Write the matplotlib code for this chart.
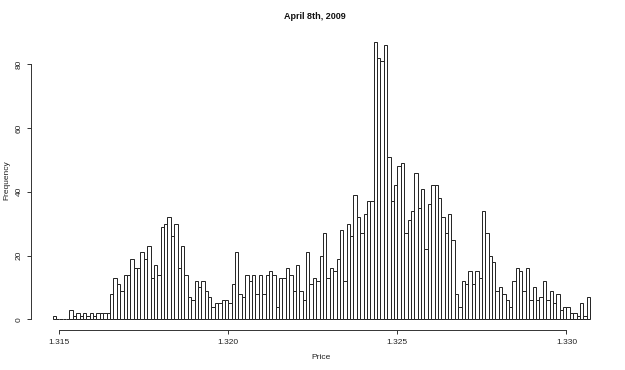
import numpy as np
import matplotlib
matplotlib.use("Agg")
import matplotlib.pyplot as plt

plt.rcParams["font.family"] = ["Liberation Sans", "DejaVu Sans"]

title = "April 8th, 2009"
x_label = "Price"
y_label = "Frequency"

bin_start = 1.3148
bin_width = 0.0001
counts = [1, 0, 0, 0, 0, 3, 1, 2, 1, 2, 1, 2, 1, 2, 2, 2, 2, 8, 13, 11,
          9, 14, 14, 19, 16, 16, 21, 19, 23, 13, 17, 14, 29, 30, 32, 26, 30, 16, 23, 14,
          7, 6, 12, 10, 12, 9, 7, 4, 5, 5, 6, 6, 5, 11, 21, 8, 7, 14, 12, 14,
          8, 14, 8, 14, 15, 14, 4, 13, 13, 16, 14, 9, 17, 9, 6, 21, 11, 13, 12, 20,
          27, 13, 16, 15, 19, 28, 12, 30, 26, 39, 32, 27, 33, 37, 37, 87, 82, 81, 86, 51,
          37, 42, 48, 49, 27, 31, 34, 46, 35, 41, 22, 36, 42, 42, 38, 32, 27, 33, 25, 8,
          4, 12, 11, 15, 11, 15, 13, 34, 27, 20, 18, 9, 10, 8, 6, 4, 12, 16, 15, 9,
          16, 6, 10, 6, 7, 12, 6, 9, 5, 8, 3, 4, 4, 2, 2, 1, 5, 1, 7]

x_ticks = [1.315, 1.320, 1.325, 1.330]
x_tick_labels = ["1.315", "1.320", "1.325", "1.330"]
y_ticks = [0, 20, 40, 60, 80]
y_tick_labels = ["0", "20", "40", "60", "80"]

edges = np.round(bin_start + bin_width * np.arange(len(counts) + 1), 5)

fig = plt.figure(figsize=(6.25, 3.7), dpi=100)
ax = fig.add_axes([0.0496, 0.107, 0.929, 0.810])

ax.bar(edges[:-1], counts, width=bin_width, align="edge",
       facecolor="white", edgecolor="#222222", linewidth=0.7)

xmin, xmax = edges[0], edges[-1]
pad = 0.04 * (xmax - xmin)
ax.set_xlim(xmin - pad, xmax + pad)
ymax = max(counts)
ax.set_ylim(-0.04 * ymax, ymax * 1.04)

for s in ["top", "right"]:
    ax.spines[s].set_visible(False)
ax.spines["left"].set_bounds(0, 80)
ax.spines["bottom"].set_bounds(1.315, 1.330)
for s in ["left", "bottom"]:
    ax.spines[s].set_linewidth(0.7)
    ax.spines[s].set_color("#333333")

ax.set_xticks(x_ticks)
ax.set_xticklabels(x_tick_labels, fontsize=6, color="#222222")
ax.set_yticks(y_ticks)
ax.set_yticklabels(y_tick_labels, fontsize=6, color="#222222", rotation=90, va="center")
ax.tick_params(axis="both", length=3, width=0.7, color="#333333", pad=3)

ax.set_xlabel(x_label, fontsize=6, color="#222222")
ax.set_ylabel(y_label, fontsize=6, color="#222222")
ax.xaxis.set_label_coords(0.5 + (315 - 315) / 580, -0.089)
ax.yaxis.set_label_coords(-0.041, 0.5)
ax.xaxis.label.set_va("center")
ax.yaxis.label.set_va("center")
fig.text(0.504, 0.955, title, ha="center", va="center", fontsize=6.5, fontweight="bold", color="#111111")

fig.savefig("out.png", dpi=100, facecolor="white")
